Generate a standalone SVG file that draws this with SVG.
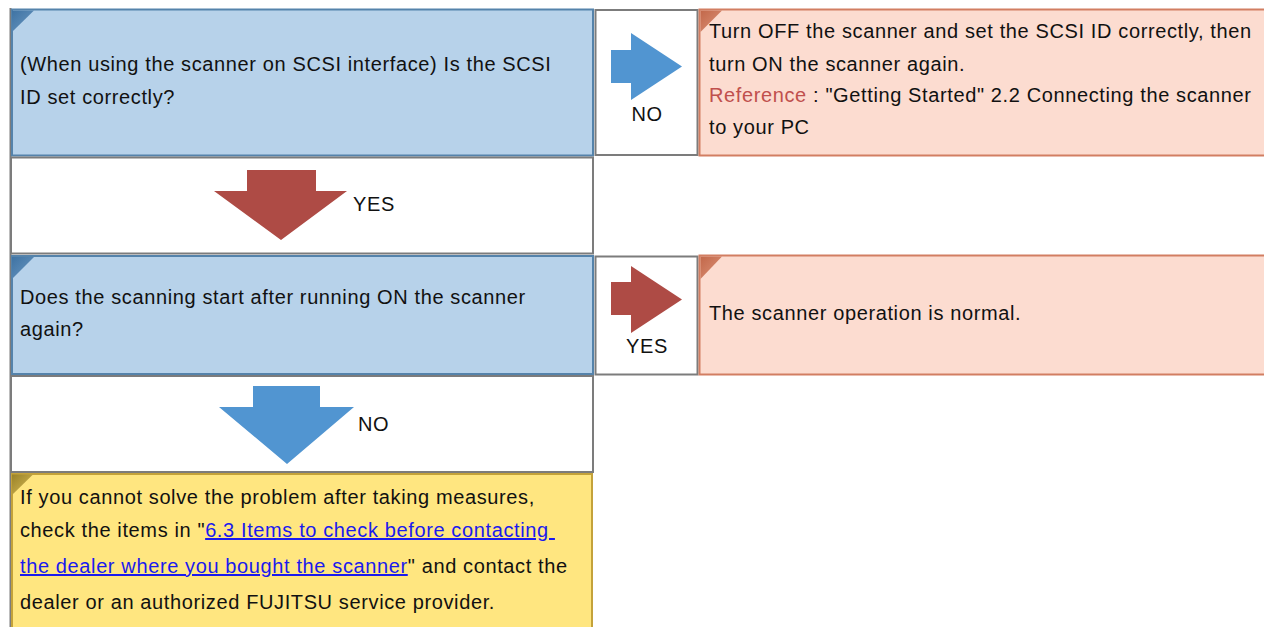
<svg xmlns="http://www.w3.org/2000/svg" width="1264" height="627" viewBox="0 0 1264 627">
<style>
text{font-family:"Liberation Sans",Arial,sans-serif;font-size:20px;fill:#111;letter-spacing:0.62px}
.q{fill:#b7d2ea;stroke:#5583ab;stroke-width:2}
.a{fill:#fcdcd0;stroke:#d27e62;stroke-width:2}
.y{fill:#ffe680;stroke:#c4a23a;stroke-width:2}
.cell{fill:#fff;stroke:#7c7c7c;stroke-width:2}
.red{fill:#ae4b45}
.blue{fill:#5195d1}
.lnk{fill:#1a1aee;text-decoration:underline}
.ref{fill:#c0504d}
</style>
<defs>
<linearGradient id="gq" x1="0" y1="0" x2="1" y2="1"><stop offset="0" stop-color="#3f73a3"/><stop offset="1" stop-color="#6a98c2"/></linearGradient>
<linearGradient id="ga" x1="0" y1="0" x2="1" y2="1"><stop offset="0" stop-color="#c2684a"/><stop offset="1" stop-color="#dd9379"/></linearGradient>
<linearGradient id="gy" x1="0" y1="0" x2="1" y2="1"><stop offset="0" stop-color="#9a8228"/><stop offset="1" stop-color="#d8bc58"/></linearGradient>
</defs>
<line x1="10.5" y1="8" x2="10.5" y2="627" stroke="#7c7c7c" stroke-width="2"/>
<g id="q1">
<rect class="q" x="12" y="9.5" width="581" height="146"/>
<polygon points="12,10.5 34,10.5 12,32" fill="url(#gq)"/>
<text x="20" y="71">(When using the scanner on SCSI interface) Is the SCSI</text>
<text x="20" y="104">ID set correctly?</text>
</g>
<g id="cellNo1"><rect class="cell" x="595.5" y="10" width="102" height="145"/></g>
<g id="a1">
<rect class="a" x="699.5" y="9.5" width="580" height="146"/>
<polygon points="700.5,10.5 722,10.5 700.5,32" fill="url(#ga)"/>
<text x="709" y="38">Turn OFF the scanner and set the SCSI ID correctly, then</text>
<text x="709" y="71">turn ON the scanner again.</text>
<text x="709" y="102"><tspan class="ref">Reference</tspan> : "Getting Started" 2.2 Connecting the scanner</text>
<text x="709" y="134">to your PC</text>
</g>
<g id="cellYes1"><rect class="cell" x="11" y="157.5" width="582" height="96"/></g>
<g id="q2">
<rect class="q" x="12" y="256" width="581" height="118"/>
<polygon points="12,257 34,257 12,279" fill="url(#gq)"/>
<text x="20" y="304">Does the scanning start after running ON the scanner</text>
<text x="20" y="336">again?</text>
</g>
<g id="cellYes2"><rect class="cell" x="595.5" y="256.5" width="102" height="118"/></g>
<g id="a2">
<rect class="a" x="699.5" y="255.5" width="580" height="119"/>
<polygon points="700.5,256.5 722,256.5 700.5,279" fill="url(#ga)"/>
<text x="709" y="320">The scanner operation is normal.</text>
</g>
<g id="cellNo2"><rect class="cell" x="11" y="376" width="582" height="96"/></g>
<g id="end">
<rect class="y" x="12" y="474" width="580" height="170"/>
<polygon points="12,474.5 33,474.5 12,495" fill="url(#gy)"/>
<text x="20" y="504">If you cannot solve the problem after taking measures,</text>
<text x="20" y="537" xml:space="preserve">check the items in "<tspan class="lnk">6.3 Items to check before contacting </tspan></text>
<text x="20" y="573"><tspan class="lnk">the dealer where you bought the scanner</tspan>" and contact the</text>
<text x="20" y="609">dealer or an authorized FUJITSU service provider.</text>
</g>
<g id="connectors">
<polygon class="blue" points="611,50 631,50 631,33 682,66.5 631,100 631,83 611,83"/>
<text x="647" y="121" text-anchor="middle">NO</text>
<polygon class="red" points="247,170 316,170 316,191 347,191 281,240 214,191 247,191"/>
<text x="353" y="211">YES</text>
<polygon class="red" points="611,282 631,282 631,266 682,299.5 631,333 631,315 611,315"/>
<text x="647" y="353" text-anchor="middle">YES</text>
<polygon class="blue" points="253,386 320,386 320,407 354,407 287,464 219,407 253,407"/>
<text x="358" y="431">NO</text>
</g>
</svg>
